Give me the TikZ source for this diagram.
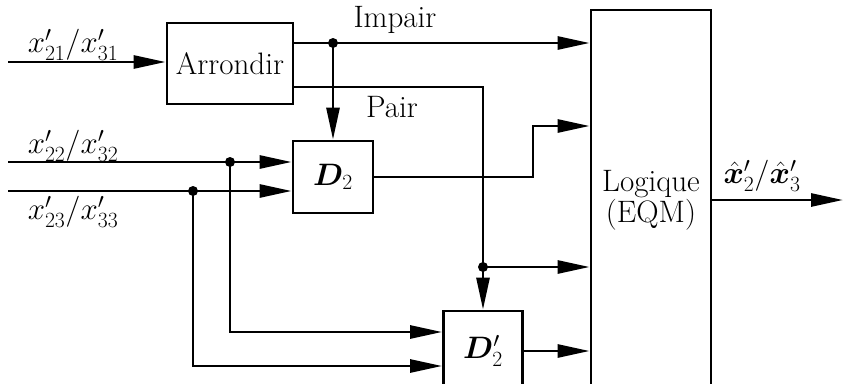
\RequirePackage{fix-cm}
\documentclass[tikz,border=0pt]{standalone}
\usepackage{bm}
\usetikzlibrary{arrows.meta}
\begin{document}
\begin{tikzpicture}[x=1pt,y=-1pt, line width=2.8pt,
  >={Triangle[length=32pt,width=13pt]},
  big/.style={font=\fontsize{31}{31}\selectfont},
  lbl/.style={big, inner sep=0pt},
  blk/.style={draw, big, line width=2.8pt, inner sep=0pt, align=center},
  dot/.style={circle, fill, inner sep=0pt, minimum size=10pt}]
\useasboundingbox (0,0) rectangle (843,383);
\clip (0,0) rectangle (843,383);
% blocks
\node[blk, minimum width=126pt, minimum height=81pt] (arr) at (230,63.5) {Arrondir};
\node[blk, minimum width=80pt, minimum height=72pt] (d2) at (333,177) {$\bm{D}_2$};
\node[blk, minimum width=79pt, minimum height=80pt] (d2p) at (483,351) {$\bm{D}'_2$};
\node[blk, minimum width=120pt, minimum height=380pt] (log) at (651,200) {Logique\\(EQM)};
% coordinates
\coordinate (in1) at (8,62);
\coordinate (in2) at (8,162);
\coordinate (in3) at (8,191);
\coordinate (j1) at (333,43);
\coordinate (p1) at (483,87);
\coordinate (j2) at (483,267);
\coordinate (j3) at (230,162);
\coordinate (j4) at (193,191);
\coordinate (k) at (533,126);
\coordinate (out) at (843,200);
% connectors
\draw[->] (in1) -- (arr.west |- in1);
\draw (arr.east |- j1) -- (j1);
\draw[->] (j1) -- (log.west |- j1);
\draw[->] (j1) -- (d2.north);
\draw (arr.east |- p1) -- (p1) -- (j2);
\draw[->] (j2) -- (d2p.north);
\draw[->] (j2) -- (log.west |- j2);
\draw[->] (d2.east) -| (k) -- (log.west |- k);
\draw[->] (in2) -- (d2.west |- in2);
\draw[->] (in3) -- (d2.west |- in3);
\draw[->] (j3) |- ([yshift=19pt]d2p.west);
\draw[->] (j4) |- ([yshift=-15pt]d2p.west);
\draw[->] (d2p.east) -- (log.west |- d2p.east);
\draw[->] (log.east |- out) -- (out);
% junction dots
\node[dot] (dj1) at (j1) {};
\node[dot] (dj2) at (j2) {};
\node[dot] (dj3) at (j3) {};
\node[dot] (dj4) at (j4) {};
% labels
\node[lbl] (l1) at (73,45) {$x'_{21}/x'_{31}$};
\node[lbl] (l2) at (73,146) {$x'_{22}/x'_{32}$};
\node[lbl] (l3) at (73,212) {$x'_{23}/x'_{33}$};
\node[lbl] (limp) at (395,20) {Impair};
\node[lbl] (lpair) at (392,107) {Pair};
\node[lbl] (lout) at (762,176) {$\hat{\bm{x}}'_2/\hat{\bm{x}}'_3$};
\end{tikzpicture}
\end{document}
